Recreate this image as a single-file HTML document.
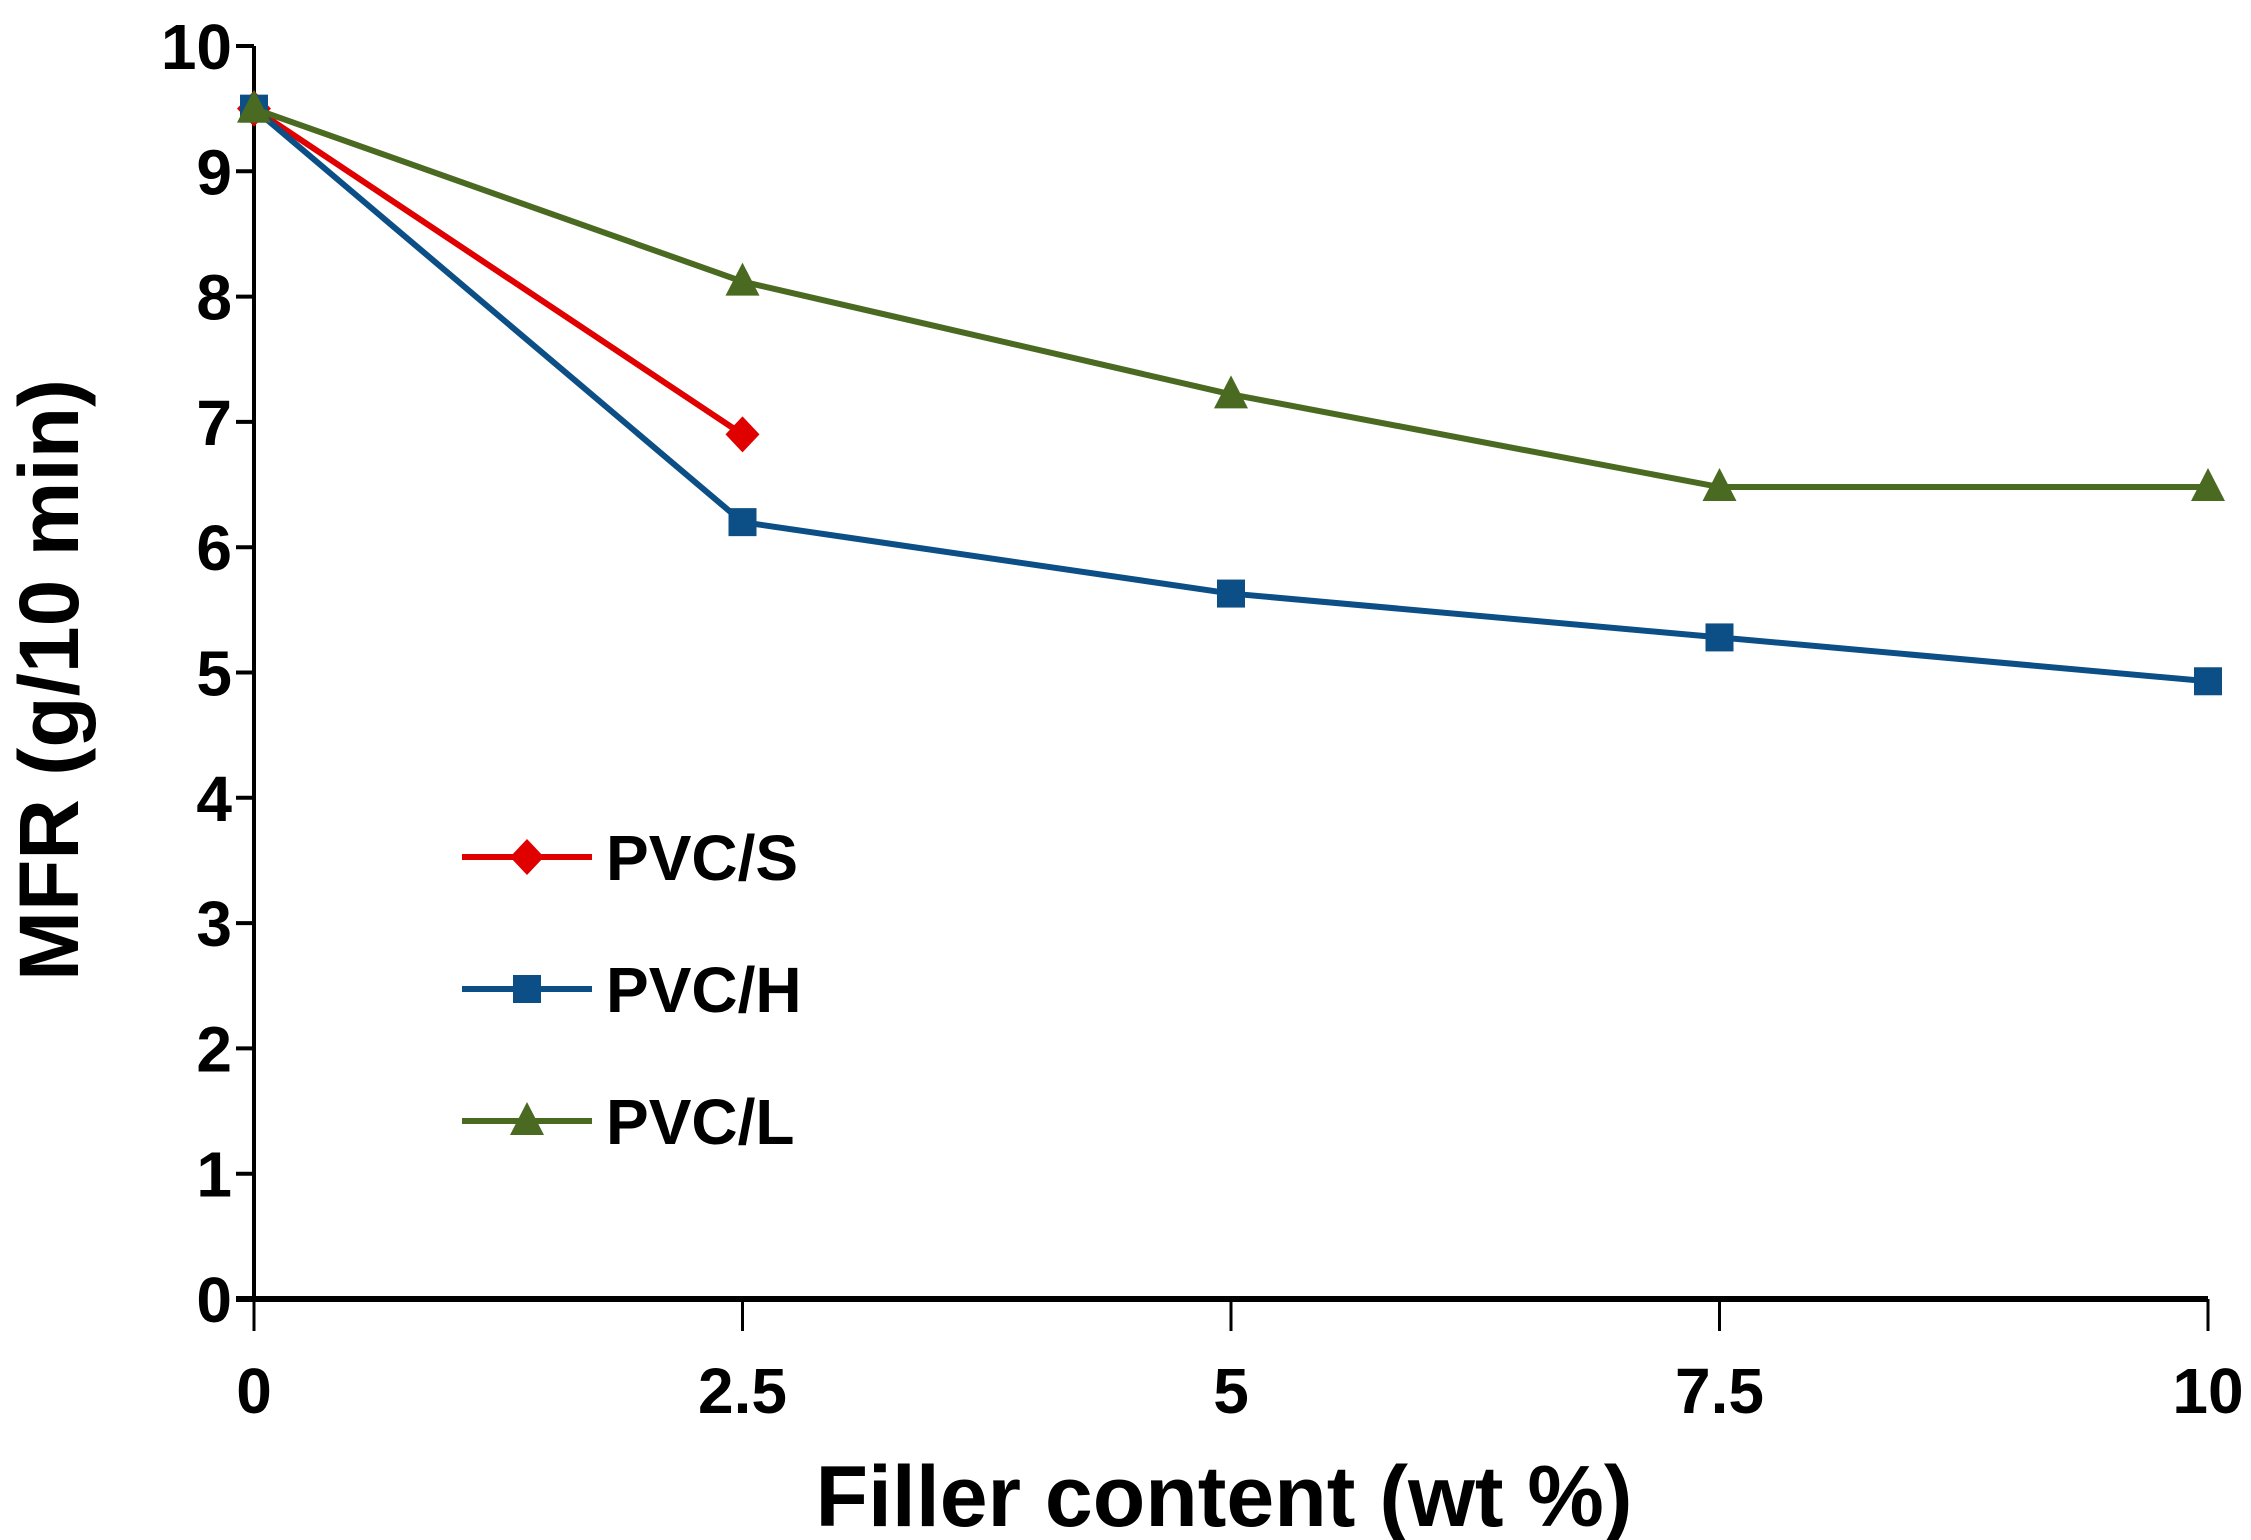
<!DOCTYPE html>
<html><head><meta charset="utf-8"><style>
html,body{margin:0;padding:0;background:#fff;}
svg{display:block;}
text{font-family:"Liberation Sans",Arial,sans-serif;font-weight:bold;fill:#000;}
</style></head><body>
<svg id="chart" width="2251" height="1540" viewBox="0 0 2251 1540" xmlns="http://www.w3.org/2000/svg">
<g id="axes"></g>
<g id="series"></g>
<g id="legend"></g>
</svg>
<script>
const xCategories = [0, 2.5, 5, 7.5, 10];
const xTickLabels = ["0", "2.5", "5", "7.5", "10"];
const yTicks = [0,1,2,3,4,5,6,7,8,9,10];
const seriesNames = ["PVC/S", "PVC/H", "PVC/L"];
const valuesS = [9.5, 6.9];
const valuesH = [9.5, 6.2, 5.63, 5.28, 4.93];
const valuesL = [9.5, 8.12, 7.22, 6.48, 6.48];

const NS = "http://www.w3.org/2000/svg";
const X0 = 254, X1 = 2208, Y0 = 1299, Y1 = 46;
function xs(v){ return X0 + (v - 0) / 10 * (X1 - X0); }
function ys(v){ return Y0 - (v - 0) / 10 * (Y0 - Y1); }
function mk(tag, attrs, parent){ const e = document.createElementNS(NS, tag); for (const k in attrs) e.setAttribute(k, attrs[k]); parent.appendChild(e); return e; }

const axes = document.getElementById('axes');
let yAxis = mk('line', {x1:X0, y1:Y1, x2:X0, y2:Y0, stroke:'#000', 'stroke-width':4}, axes);


let xAxis = mk('line', {x1:X0-18, y1:Y0, x2:X1, y2:Y0, stroke:'#000', 'stroke-width':6}, axes);


yTicks.forEach(t => {
  const tk = mk('line', {x1:X0-18, y1:ys(t), x2:X0, y2:ys(t), stroke:'#000', 'stroke-width':4}, axes);
  
  
  const lb = mk('text', {x:232, y:ys(t)+23, 'text-anchor':'end', 'font-size':64}, axes);
  lb.textContent = String(t);
  
  
});
xCategories.forEach((c, i) => {
  const tk = mk('line', {x1:xs(c), y1:Y0, x2:xs(c), y2:Y0+32, stroke:'#000', 'stroke-width':3}, axes);
  
  
  const lb = mk('text', {x:xs(c), y:1413, 'text-anchor':'middle', 'font-size':64}, axes);
  lb.textContent = xTickLabels[i];
  
  
});
const xt = mk('text', {x:1224, y:1526, 'text-anchor':'middle', 'font-size':86}, axes);
xt.textContent = "Filler content (wt %)";


const yt = mk('text', {x:0, y:0, 'text-anchor':'middle', 'font-size':84, transform:'translate(78,680) rotate(-90)'}, axes);
yt.textContent = "MFR  (g/10 min)";



const colors = ["#e00000", "#0b4f86", "#4a6a22"];
const markers = ["diamond", "square", "triangle"];
function marker(type, cx, cy, color, parent){
  let e;
  if (type === 'diamond') e = mk('polygon', {points:`${cx},${cy-18} ${cx+17},${cy} ${cx},${cy+18} ${cx-17},${cy}`, fill:color}, parent);
  else if (type === 'square') e = mk('rect', {x:cx-14, y:cy-14, width:28, height:28, fill:color}, parent);
  else e = mk('polygon', {points:`${cx},${cy-19} ${cx+17},${cy+14} ${cx-17},${cy+14}`, fill:color}, parent);
  return e;
}
const seriesG = document.getElementById('series');
const allVals = [valuesS, valuesH, valuesL];
allVals.forEach((vals, si) => {
  const g = mk('g', {}, seriesG);
  
  
  const pts = vals.map((v, i) => xs(xCategories[i]) + ',' + ys(v)).join(' ');
  const pl = mk('polyline', {points:pts, fill:'none', stroke:colors[si], 'stroke-width':6}, g);
  
  
  vals.forEach((v, i) => {
    const m = marker(markers[si], xs(xCategories[i]), ys(v), colors[si], g);
    
    
  });
});

const legend = document.getElementById('legend');
const legY = [857, 989, 1121];
seriesNames.forEach((n, i) => {
  const g = mk('g', {}, legend);
  
  
  mk('line', {x1:462, y1:legY[i], x2:592, y2:legY[i], stroke:colors[i], 'stroke-width':6}, g);
  marker(markers[i], 527, legY[i], colors[i], g);
  const t = mk('text', {x:606, y:legY[i]+23, 'font-size':64}, g);
  t.textContent = n;
});
</script>
</body></html>
